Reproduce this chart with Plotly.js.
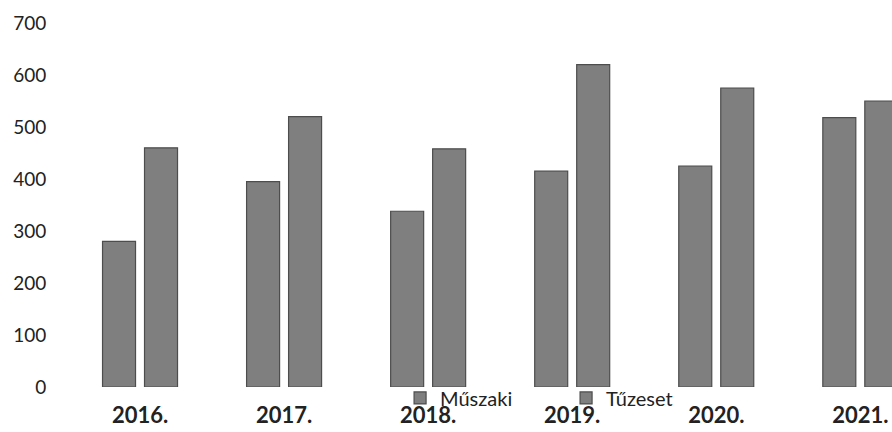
<!DOCTYPE html>
<html>
<head>
<meta charset="utf-8">
<script src="https://cdn.plot.ly/plotly-3.0.1.min.js"></script>
<style>html,body{margin:0;padding:0;background:#fff;}#chart{width:892px;height:432px;}</style>
</head>
<body>
<div id="chart"></div>
<script>
const years = ["2016.", "2017.", "2018.", "2019.", "2020.", "2021."];
const muszaki = [280, 395, 338, 415, 425, 518];
const tuzeset = [460, 520, 458, 620, 575, 550];
const yTicks = [0, 100, 200, 300, 400, 500, 600, 700];

const barStyle = {color: '#7f7f7f', line: {color: '#4d4d4d', width: 1.2}};

const data = [
  {type: 'bar', name: 'Műszaki', x: years, y: muszaki, marker: barStyle},
  {type: 'bar', name: 'Tűzeset', x: years, y: tuzeset, marker: barStyle}
];

const layout = {
  width: 892, height: 432,
  margin: {l: 68, r: 0, t: 23, b: 45},
  paper_bgcolor: '#ffffff', plot_bgcolor: '#ffffff',
  barmode: 'group', bargap: 0.417, bargroupgap: 0.214,
  showlegend: true,
  legend: {orientation: 'h', x: 0.403, xanchor: 'left', y: -0.03, yanchor: 'middle',
           font: {family: 'Lato, sans-serif', size: 20, color: '#222'},
           bgcolor: 'rgba(0,0,0,0)', itemwidth: 30, entrywidth: 121, entrywidthmode: 'pixels'},
  xaxis: {type: 'category', range: [-0.5, 5.22], showline: false, showgrid: false, zeroline: false,
          ticks: 'outside', ticklen: 9, tickcolor: 'rgba(0,0,0,0)',
          tickfont: {family: 'Lato, sans-serif', size: 22, color: '#222', weight: 'bold'}},
  yaxis: {range: [0, 700], tickvals: yTicks, showline: false, showgrid: false, zeroline: false,
          ticks: 'outside', ticklen: 17, tickcolor: 'rgba(0,0,0,0)',
          tickfont: {family: 'Lato, sans-serif', size: 19, color: '#222'}}
};

Plotly.newPlot('chart', data, layout, {staticPlot: true, displayModeBar: false});
</script>
</body>
</html>
